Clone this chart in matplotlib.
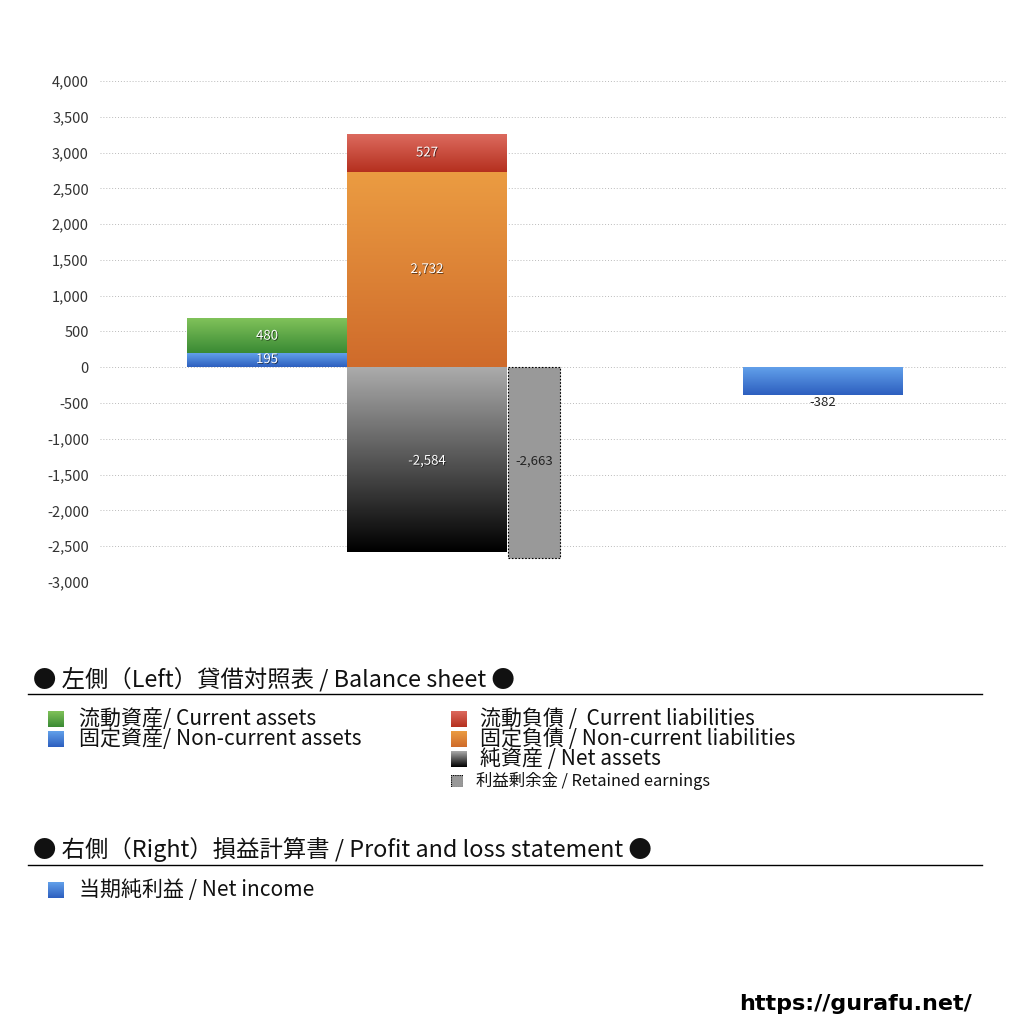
import numpy as np
import matplotlib
matplotlib.use("Agg")
import matplotlib.pyplot as plt
import matplotlib.patheffects as pe
from matplotlib.patches import Rectangle

plt.rcParams['font.family'] = ['Noto Sans CJK JP', 'DejaVu Sans']

# Balance sheet (left), values in millions
current_assets = 480
noncurrent_assets = 195
current_liab = 527
noncurrent_liab = 2732
net_assets = -2584
retained_earnings = -2663
# Profit and loss (right)
net_income = -382

yticks = list(range(-3000, 4001, 500))

# gradient colours (top, bottom)
c_green = ("#80c25a", "#3a8a34")
c_blue = ("#62a0ea", "#2d5fbf")
c_red = ("#dc6a5e", "#b5301f")
c_orange = ("#eb9c42", "#cf6b2b")
c_black = ("#ababab", "#000000")
c_gray = "#999999"

fig = plt.figure(figsize=(10.24, 10.24), dpi=100)
ax = fig.add_axes([100 / 1024, 1 - 582 / 1024, 907 / 1024, 501 / 1024])


def grad_img(top, bottom, n=128):
    t = np.linspace(0, 1, n)[:, None]
    a = np.array(matplotlib.colors.to_rgb(top))
    b = np.array(matplotlib.colors.to_rgb(bottom))
    return (a * (1 - t) + b * t)[:, None, :].reshape(n, 1, 3)


def grad_bar(x, h, bottom, w, cols):
    bar = ax.bar(x, h, bottom=bottom, width=w, color="none", linewidth=0)[0]
    x0, y0 = bar.get_x(), bar.get_y()
    x1, y1 = x0 + bar.get_width(), y0 + bar.get_height()
    ax.imshow(grad_img(*cols), extent=[x0, x1, min(y0, y1), max(y0, y1)],
              aspect="auto", zorder=2, interpolation="bilinear")
    return bar


shadow = [pe.withSimplePatchShadow(offset=(0.6, -0.6), shadow_rgbFace="black", alpha=0.6)]


def label(x, y, v, color="white", fx=shadow, va="center"):
    ax.text(x, y, f"{v:,}", ha="center", va=va, color=color, fontsize=9.5,
            zorder=5, path_effects=fx)


# left column: assets
xa, xl, xr, xn = 1.044, 2.044, 2.713, 4.519
grad_bar(xa, noncurrent_assets, 0, 1.0, c_blue)
grad_bar(xa, current_assets, noncurrent_assets, 1.0, c_green)
label(xa, noncurrent_assets / 2 + 10, noncurrent_assets)
label(xa, noncurrent_assets + current_assets / 2, current_assets)

# middle: liabilities + net assets
grad_bar(xl, noncurrent_liab, 0, 1.0, c_orange)
grad_bar(xl, current_liab, noncurrent_liab, 1.0, c_red)
grad_bar(xl, net_assets, 0, 1.0, c_black)
label(xl, noncurrent_liab / 2, noncurrent_liab)
label(xl, noncurrent_liab + current_liab / 2, current_liab)
label(xl, net_assets / 2 - 20, net_assets)

# retained earnings
ax.bar(xr, retained_earnings, width=0.325, color=c_gray, edgecolor="black",
       linewidth=0.8, linestyle=(0, (1.5, 1.5)), zorder=3)
label(xr, retained_earnings / 2 + 20, retained_earnings, color="#222222", fx=None)

# right: net income
grad_bar(xn, net_income, 0, 1.0, c_blue)
label(xn, net_income - 20, net_income, color="#222222", fx=None, va="top")

ax.set_xlim(0, 907 / 160)
ax.set_ylim(-3000, 4000)
ax.set_yticks(yticks)
ax.set_yticklabels([f"{v:,}" for v in yticks], fontsize=10.5, color="#333333")
ax.set_xticks([])
ax.tick_params(axis="y", length=0, pad=8)
for s in ax.spines.values():
    s.set_visible(False)
ax.yaxis.grid(True, color="#bbbbbb", linestyle=(0, (1, 2)), linewidth=0.7, zorder=0)
ax.set_axisbelow(True)


# legend area
def fy(py):
    return 1 - py / 1024


def swatch(px, py, size, cols, dotted=False):
    sax = fig.add_axes([px / 1024, fy(py + size), size / 1024, size / 1024])
    if dotted:
        sax.imshow(np.full((1, 1, 3), 0.6), aspect="auto", extent=[0, 1, 0, 1])
        sax.add_patch(Rectangle((0, 0), 1, 1, fill=False, edgecolor="black",
                                linestyle=(0, (1, 1)), linewidth=0.8))
    else:
        sax.imshow(grad_img(*cols), aspect="auto", extent=[0, 1, 0, 1],
                   interpolation="bilinear")
    sax.set_xlim(0, 1)
    sax.set_ylim(0, 1)
    sax.axis("off")


fig.text(33 / 1024, fy(679), "● 左側（Left）貸借対照表 / Balance sheet ●",
         fontsize=16.8, va="center", color="#111111")
fig.add_artist(plt.Line2D([28 / 1024, 982 / 1024], [fy(694), fy(694)], color="black", linewidth=1))

left_items = [("流動資産/ Current assets", c_green, 719),
              ("固定資産/ Non-current assets", c_blue, 739)]
right_items = [("流動負債 /  Current liabilities", c_red, 719),
               ("固定負債 / Non-current liabilities", c_orange, 739),
               ("純資産 / Net assets", c_black, 759)]
for txt, cols, py in left_items:
    swatch(48, py - 8, 16, cols)
    fig.text(79 / 1024, fy(py), txt, fontsize=15.1, va="center", color="#111111")
for txt, cols, py in right_items:
    swatch(451, py - 8, 16, cols)
    fig.text(480 / 1024, fy(py), txt, fontsize=15.1, va="center", color="#111111")
swatch(451, 775, 12, None, dotted=True)
fig.text(476 / 1024, fy(781), "利益剰余金 / Retained earnings", fontsize=11.8,
         va="center", color="#111111")

fig.text(33 / 1024, fy(850), "● 右側（Right）損益計算書 / Profit and loss statement ●",
         fontsize=16.8, va="center", color="#111111")
fig.add_artist(plt.Line2D([28 / 1024, 982 / 1024], [fy(865), fy(865)], color="black", linewidth=1))
swatch(48, 882, 16, c_blue)
fig.text(79 / 1024, fy(890), "当期純利益 / Net income", fontsize=15.1, va="center", color="#111111")

fig.text(972 / 1024, fy(1004), "https://gurafu.net/", fontsize=16, fontweight="bold",
         ha="right", va="center", family=["DejaVu Sans"])

fig.savefig("out.png", dpi=100)
